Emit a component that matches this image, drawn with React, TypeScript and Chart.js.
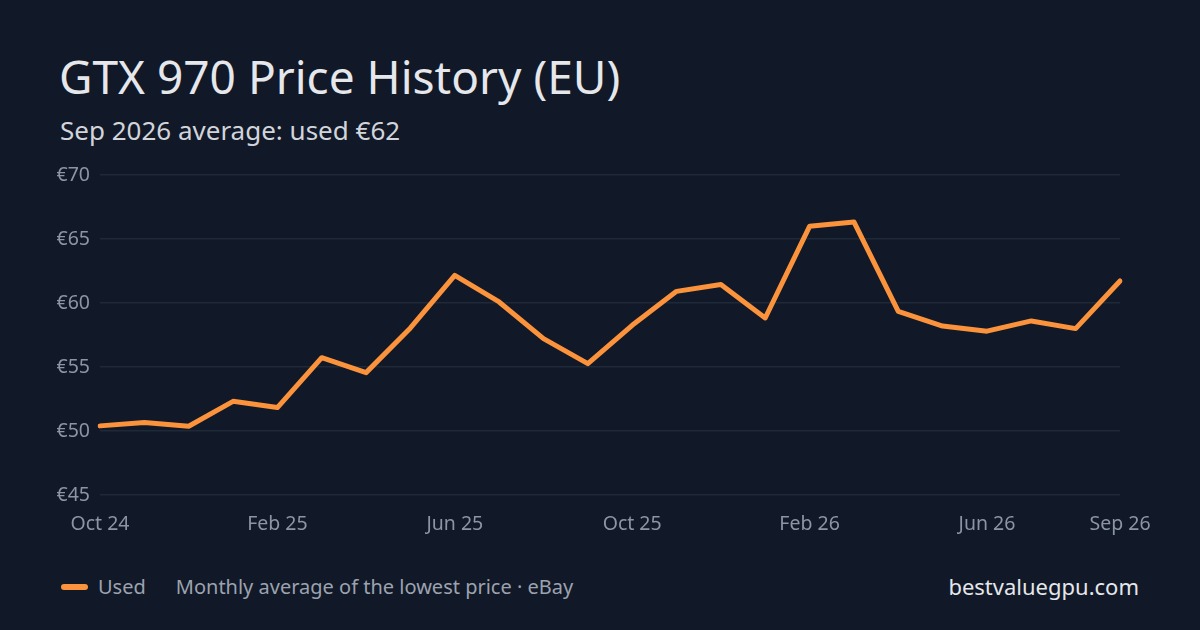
import { useEffect, useRef } from "react";
import { Chart, registerables } from "chart.js";

Chart.register(...registerables);

const MONTHS = [
  "Oct 24", "Nov 24", "Dec 24", "Jan 25", "Feb 25", "Mar 25", "Apr 25", "May 25",
  "Jun 25", "Jul 25", "Aug 25", "Sep 25", "Oct 25", "Nov 25", "Dec 25", "Jan 26",
  "Feb 26", "Mar 26", "Apr 26", "May 26", "Jun 26", "Jul 26", "Aug 26", "Sep 26",
];

const USED_PRICES = [
  50.4, 50.66, 50.37, 52.32, 51.83, 55.73, 54.56, 58.05,
  62.16, 60.08, 57.22, 55.26, 58.26, 60.91, 61.44, 58.83,
  65.99, 66.33, 59.35, 58.2, 57.8, 58.6, 58.0, 61.72,
];

const Y_MIN = 45;
const Y_MAX = 70;
const Y_STEP = 5;

const FONT = '"Noto Sans", sans-serif';
const BG = "#111827";
const LINE = "#fb923c";

export default function App() {
  const chartRef = useRef<HTMLCanvasElement>(null);
  const chartInstance = useRef<Chart | null>(null);

  useEffect(() => {
    document.body.style.margin = "0";
    if (!chartRef.current) return;
    if (chartInstance.current) chartInstance.current.destroy();

    const last = MONTHS.length - 1;

    chartInstance.current = new Chart(chartRef.current, {
      type: "line",
      data: {
        labels: MONTHS,
        datasets: [
          {
            label: "Used",
            data: USED_PRICES,
            borderColor: LINE,
            borderWidth: 5,
            borderCapStyle: "round",
            borderJoinStyle: "round",
            pointRadius: 0,
            tension: 0,
            fill: false,
          },
        ],
      },
      options: {
        animation: false,
        responsive: false,
        maintainAspectRatio: false,
        layout: { padding: { left: 57, right: 80, top: 25, bottom: 0 } },
        plugins: {
          legend: { display: false },
          tooltip: { enabled: false },
        },
        scales: {
          x: {
            offset: false,
            grid: { display: false, drawTicks: false },
            border: { display: false },
            ticks: {
              autoSkip: false,
              maxRotation: 0,
              padding: 18,
              color: "#8b95a5",
              font: { family: FONT, size: 19.5 },
              callback: (_v, i) => (i % 4 === 0 || i === last ? MONTHS[i] : ""),
            },
            afterFit: (scale) => {
              scale.height = 50;
            },
          },
          y: {
            min: Y_MIN,
            max: Y_MAX,
            grid: { color: "#1f2937", lineWidth: 1.5, drawTicks: false },
            border: { display: false },
            ticks: {
              stepSize: Y_STEP,
              padding: 10,
              color: "#8b95a5",
              font: { family: FONT, size: 19.5 },
              callback: (v) => `€${v}`,
            },
            afterFit: (scale) => {
              scale.width = 43;
            },
          },
        },
      },
    });

    return () => chartInstance.current?.destroy();
  }, []);

  return (
    <div
      style={{
        position: "relative",
        width: 1200,
        height: 630,
        background: BG,
        fontFamily: FONT,
        overflow: "hidden",
      }}
    >
      {/* Title + subtitle */}
      <div
        style={{
          position: "absolute",
          left: 59,
          top: 46,
          fontSize: 46,
          lineHeight: "60px",
          color: "#e5e7eb",
          whiteSpace: "nowrap",
        }}
      >
        GTX 970 Price History (EU)
      </div>
      <div
        style={{
          position: "absolute",
          left: 60,
          top: 114,
          fontSize: 26,
          lineHeight: "32px",
          color: "#d1d5db",
          whiteSpace: "nowrap",
        }}
      >
        Sep 2026 average: used €62
      </div>

      {/* Chart */}
      <canvas
        ref={chartRef}
        width={1200}
        height={395}
        style={{ position: "absolute", left: 0, top: 150, width: 1200, height: 395 }}
      />

      {/* Legend + source */}
      <div
        style={{
          position: "absolute",
          left: 61,
          top: 572,
          display: "flex",
          alignItems: "center",
          fontSize: 20,
          lineHeight: "30px",
          color: "#9ca3af",
          whiteSpace: "nowrap",
        }}
      >
        <span
          style={{ width: 27, height: 6, borderRadius: 3, background: LINE, marginRight: 10 }}
        />
        <span>Used</span>
        <span style={{ marginLeft: 30 }}>Monthly average of the lowest price · eBay</span>
      </div>
      <div
        style={{
          position: "absolute",
          right: 61,
          top: 571,
          fontSize: 22,
          lineHeight: "30px",
          color: "#e5e7eb",
          whiteSpace: "nowrap",
        }}
      >
        bestvaluegpu.com
      </div>
    </div>
  );
}
